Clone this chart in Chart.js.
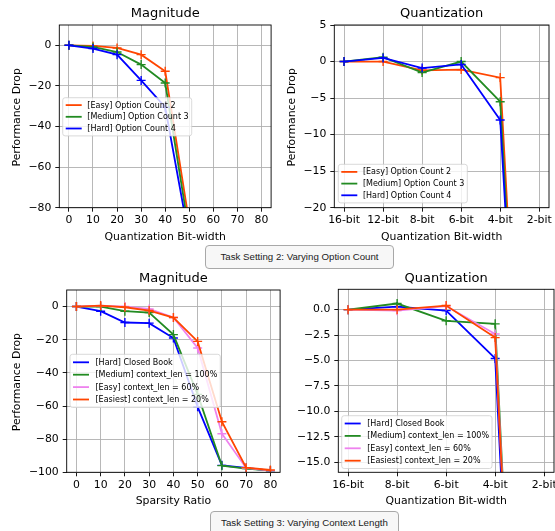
<!DOCTYPE html>
<html><head><meta charset="utf-8">
<script src="https://cdn.jsdelivr.net/npm/chart.js@4.4.1/dist/chart.umd.min.js"></script>
<style>
html,body{margin:0;padding:0;background:#fff;width:555px;height:531px;overflow:hidden;position:relative}
canvas{position:absolute}
.cap{position:absolute;box-sizing:border-box;border:1px solid #a8a8a8;border-radius:4px;background:#f7f7f7;font-family:'Liberation Sans',Arial,sans-serif;font-size:9.7px;color:#222;text-align:center;z-index:5;line-height:22px;white-space:nowrap}
</style></head><body>
<canvas id="c1"></canvas>
<canvas id="c2"></canvas>
<canvas id="c3"></canvas>
<canvas id="c4"></canvas>
<div class="cap" style="left:205px;top:245px;width:189px;height:24px">Task Setting 2: Varying Option Count</div>
<div class="cap" style="left:210px;top:511px;width:189px;height:30px">Task Setting 3: Varying Context Length</div>
<script>
// ---------- data ----------
const magTicks = [0, 10, 20, 30, 40, 50, 60, 70, 80];
const optMagX = [0, 10, 20, 30, 40, 50];
const optMagEasy = [0, -0.3, -1.3, -4.6, -12.8, -87.5];
const optMagMedium = [0, -0.8, -3.3, -9.5, -18.6, -92.5];
const optMagHard = [0, -1.6, -4.6, -17.3, -30.5, -95.5];
const optMagYTicks = [0, -20, -40, -60, -80];

const optQuantCats = ['16-bit', '12-bit', '8-bit', '6-bit', '4-bit', '2-bit'];
const optQuantEasy = [0, 0, -1.2, -1.1, -2.2, -100];
const optQuantMedium = [0, 0.6, -1.5, 0, -5.5, -100];
const optQuantHard = [0, 0.5, -0.9, -0.4, -8, -100];
const optQuantYTicks = [5, 0, -5, -10, -15, -20];

const ctxMagX = [0, 10, 20, 30, 40, 50, 60, 70, 80];
const ctxMagHard = [0, -2.8, -9.6, -10, -19, -60.5, -95.8, -97.4, -99];
const ctxMagMedium = [0, 0, -2.8, -3.6, -16.9, -53, -96, -97.8, -99];
const ctxMagEasy = [0, 0.6, 0, -1.4, -6.6, -25, -76.7, -97.4, -99];
const ctxMagEasiest = [0, 0.6, -0.4, -2.4, -6.6, -21, -69.5, -97.2, -98.6];
const ctxMagYTicks = [0, -20, -40, -60, -80, -100];

const ctxQuantCats = ['16-bit', '8-bit', '6-bit', '4-bit', '2-bit'];
const ctxQuantHard = [0, 0.3, -0.1, -4.8, -100];
const ctxQuantMedium = [0, 0.6, -1.1, -1.4, -100];
const ctxQuantEasy = [0, -0.1, 0.35, -2.4, -100];
const ctxQuantEasiest = [0, 0, 0.4, -2.75, -100];
const ctxQuantYTicks = [0, -2.5, -5, -7.5, -10, -12.5, -15];

// ---------- styling ----------
const FONT = 'DejaVu Sans';
const C_EASY = '#ff4500', C_MED = '#228b22', C_HARD = '#0000ff', C_VIOLET = '#ee82ee';
const minus = s => String(s).replace('-', '\u2212');

function roundRect(ctx, x, y, w, h, r) {
  ctx.beginPath();
  ctx.moveTo(x + r, y);
  ctx.lineTo(x + w - r, y); ctx.quadraticCurveTo(x + w, y, x + w, y + r);
  ctx.lineTo(x + w, y + h - r); ctx.quadraticCurveTo(x + w, y + h, x + w - r, y + h);
  ctx.lineTo(x + r, y + h); ctx.quadraticCurveTo(x, y + h, x, y + h - r);
  ctx.lineTo(x, y + r); ctx.quadraticCurveTo(x, y, x + r, y);
  ctx.closePath();
}

const deco = {
  id: 'deco',
  afterDatasetsDraw(chart, args, o) {
    const a = chart.chartArea, ctx = chart.ctx;
    ctx.save();
    ctx.strokeStyle = '#000'; ctx.lineWidth = 0.9;
    ctx.strokeRect(a.left, a.top, a.right - a.left, a.bottom - a.top);
    ctx.restore();
  },
  afterDraw(chart, args, o) {
    const a = chart.chartArea, ctx = chart.ctx;
    ctx.save();
    ctx.fillStyle = '#000';
    ctx.textAlign = 'center'; ctx.textBaseline = 'alphabetic';
    ctx.font = '13px "' + FONT + '"';
    ctx.fillText(o.title, (a.left + a.right) / 2, a.top - o.titleGap);
    ctx.font = '10.85px "' + FONT + '"';
    ctx.fillText(o.xlabel, (a.left + a.right) / 2, a.bottom + o.xlabelGap);
    if (o.ylabel) {
      ctx.save();
      ctx.translate(o.ylabelX, (a.top + a.bottom) / 2 + 1);
      ctx.rotate(-Math.PI / 2);
      ctx.fillText(o.ylabel, 0, 0);
      ctx.restore();
    }
    // legend
    const L = o.legend, ds = chart.data.datasets;
    ctx.font = '8px "' + FONT + '"';
    const tw = Math.max(...ds.map(d => ctx.measureText(d.label).width));
    const x0 = a.left + L.dx, y0 = a.top + L.dy;
    const w = L.textOff + tw + 3, h = L.rowOff * 2 + L.pitch * (ds.length - 1);
    roundRect(ctx, x0, y0, w, h, 2.5);
    ctx.fillStyle = 'rgba(255,255,255,0.8)'; ctx.fill();
    ctx.strokeStyle = 'rgba(204,204,204,0.8)'; ctx.lineWidth = 0.9; ctx.stroke();
    ctx.textAlign = 'left'; ctx.textBaseline = 'middle';
    ds.forEach((d, i) => {
      const y = y0 + L.rowOff + i * L.pitch;
      ctx.strokeStyle = d.borderColor; ctx.lineWidth = 1.8;
      ctx.beginPath(); ctx.moveTo(x0 + 3, y); ctx.lineTo(x0 + 19, y); ctx.stroke();
      ctx.fillStyle = '#000';
      ctx.fillText(d.label, x0 + L.textOff, y + 0.5);
    });
    ctx.restore();
  }
};

function makeChart(id, c) {
  const el = document.getElementById(id);
  el.style.left = c.box[0] + 'px'; el.style.top = c.box[1] + 'px';
  el.width = c.box[2]; el.height = c.box[3];
  el.style.width = c.box[2] + 'px'; el.style.height = c.box[3] + 'px';
  const tickFont = {family: FONT, size: 10.85};
  const grid = {color: '#b0b0b0', lineWidth: 0.9, tickColor: '#000', tickLength: 4, tickWidth: 0.9};
  new Chart(el, {
    type: 'line',
    data: {
      datasets: c.series.map((s, i) => ({
        label: s.label,
        data: c.x.map((xv, j) => ({x: xv, y: s.values[j]})),
        borderColor: s.color, backgroundColor: s.color,
        pointBorderColor: s.color, pointBackgroundColor: s.color,
        borderWidth: 1.8, pointStyle: 'cross', pointRadius: 4.5, pointBorderWidth: 1.4,
        tension: 0, fill: false, order: -i
      }))
    },
    options: {
      responsive: false, animation: false, events: [],
      layout: {padding: c.pad},
      scales: {
        x: {
          type: 'linear', min: c.xmin, max: c.xmax,
          afterFit: s => { s.height = c.xh; },
          afterBuildTicks: s => { s.ticks = c.xticks.map(v => ({value: v})); },
          ticks: {callback: c.xfmt, font: tickFont, color: '#000', padding: 2, maxRotation: 0, autoSkip: false},
          grid: grid, border: {display: false}
        },
        y: {
          type: 'linear', min: c.ymin, max: c.ymax,
          afterFit: s => { s.width = c.yw; },
          afterBuildTicks: s => { s.ticks = c.yticks.map(v => ({value: v})); },
          ticks: {callback: c.yfmt, font: tickFont, color: '#000', padding: 4, autoSkip: false},
          grid: grid, border: {display: false}
        }
      },
      plugins: {
        legend: {display: false}, tooltip: {enabled: false},
        deco: {title: c.title, xlabel: c.xlabel, ylabel: c.ylabel, ylabelX: c.ylabelX,
               titleGap: 7.8, xlabelGap: 32, legend: c.legend}
      }
    },
    plugins: [deco]
  });
}

const idx = arr => arr.map((_, i) => i);

makeChart('c1', {
  box: [0, 0, 277, 245], pad: {left: 0, top: 25, right: 3, bottom: 0}, yw: 59.3, xh: 37.3,
  x: optMagX, xmin: -4, xmax: 84, xticks: magTicks, xfmt: v => String(v),
  ymin: -80, ymax: 10, yticks: optMagYTicks, yfmt: v => minus(v),
  title: 'Magnitude', xlabel: 'Quantization Bit-width', ylabel: 'Performance Drop', ylabelX: 19.5,
  legend: {dx: 3.4, dy: 72.7, rowOff: 7.4, pitch: 11.7, textOff: 24.6},
  series: [
    {label: '[Easy] Option Count 2', values: optMagEasy, color: C_EASY},
    {label: '[Medium] Option Count 3', values: optMagMedium, color: C_MED},
    {label: '[Hard] Option Count 4', values: optMagHard, color: C_HARD}
  ]
});

makeChart('c2', {
  box: [277, 0, 278, 245], pad: {left: 0, top: 25, right: 6, bottom: 0}, yw: 57.3, xh: 37.3,
  x: idx(optQuantCats), xmin: -0.25, xmax: 5.25, xticks: idx(optQuantCats), xfmt: v => optQuantCats[v],
  ymin: -20, ymax: 5, yticks: optQuantYTicks, yfmt: v => minus(v),
  title: 'Quantization', xlabel: 'Quantization Bit-width', ylabel: 'Performance Drop', ylabelX: 18,
  legend: {dx: 4, dy: 139.3, rowOff: 7.6, pitch: 11.7, textOff: 24.6},
  series: [
    {label: '[Easy] Option Count 2', values: optQuantEasy, color: C_EASY},
    {label: '[Medium] Option Count 3', values: optQuantMedium, color: C_MED},
    {label: '[Hard] Option Count 4', values: optQuantHard, color: C_HARD}
  ]
});

makeChart('c3', {
  box: [0, 245, 286, 286], pad: {left: 0, top: 45, right: 2.7, bottom: 0}, yw: 66.7, xh: 58.7,
  x: ctxMagX, xmin: -4, xmax: 84, xticks: magTicks, xfmt: v => String(v),
  ymin: -100, ymax: 10, yticks: ctxMagYTicks, yfmt: v => minus(v),
  title: 'Magnitude', xlabel: 'Sparsity Ratio', ylabel: 'Performance Drop', ylabelX: 19.5,
  legend: {dx: 3.3, dy: 64.3, rowOff: 8, pitch: 12.4, textOff: 25.5},
  series: [
    {label: '[Hard] Closed Book', values: ctxMagHard, color: C_HARD},
    {label: '[Medium] context_len = 100%', values: ctxMagMedium, color: C_MED},
    {label: '[Easy] context_len = 60%', values: ctxMagEasy, color: C_VIOLET},
    {label: '[Easiest] context_len = 20%', values: ctxMagEasiest, color: C_EASY}
  ]
});

makeChart('c4', {
  box: [286, 245, 290, 286], pad: {left: 0, top: 44.3, right: 22, bottom: 0}, yw: 52.3, xh: 58.7,
  x: idx(ctxQuantCats), xmin: -0.2, xmax: 4.2, xticks: idx(ctxQuantCats), xfmt: v => ctxQuantCats[v],
  ymin: -16, ymax: 2, yticks: ctxQuantYTicks, yfmt: v => minus(v.toFixed(1)),
  title: 'Quantization', xlabel: 'Quantization Bit-width', ylabel: null, ylabelX: 0,
  legend: {dx: 3.4, dy: 126.4, rowOff: 7.8, pitch: 12.4, textOff: 25.5},
  series: [
    {label: '[Hard] Closed Book', values: ctxQuantHard, color: C_HARD},
    {label: '[Medium] context_len = 100%', values: ctxQuantMedium, color: C_MED},
    {label: '[Easy] context_len = 60%', values: ctxQuantEasy, color: C_VIOLET},
    {label: '[Easiest] context_len = 20%', values: ctxQuantEasiest, color: C_EASY}
  ]
});
</script>
</body></html>
